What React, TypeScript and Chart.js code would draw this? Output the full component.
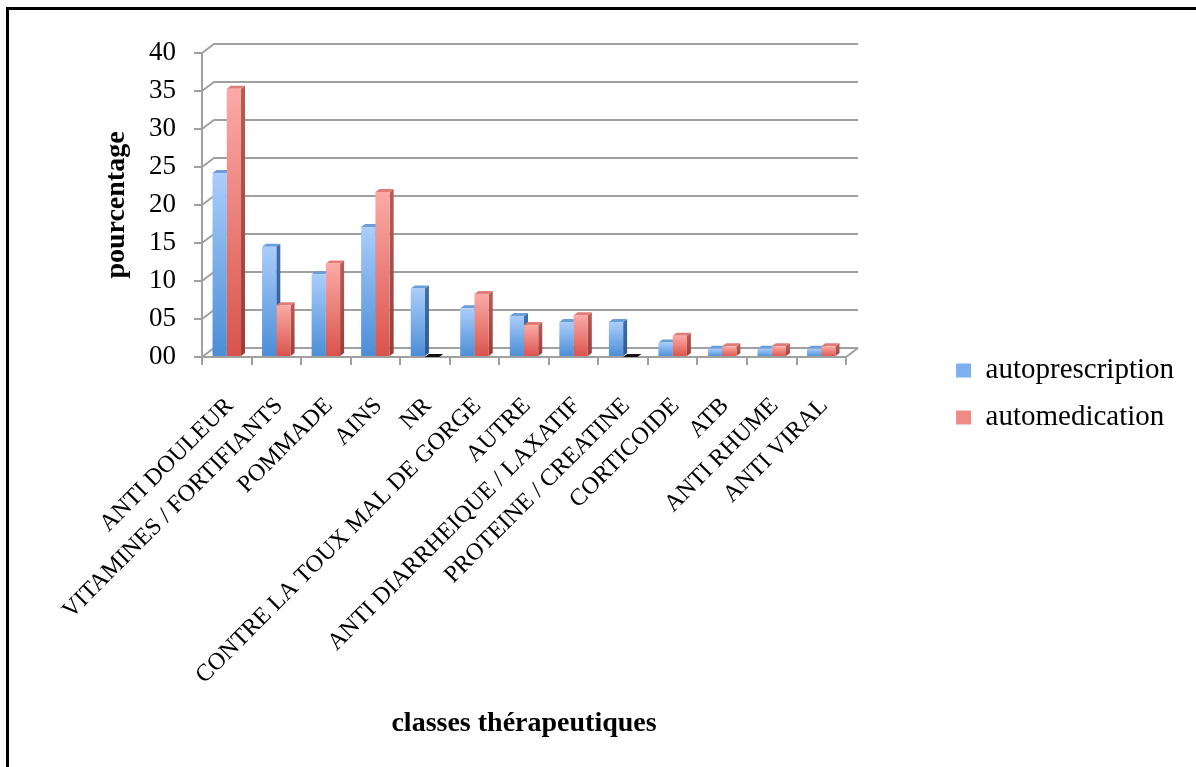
import React, { useEffect, useRef } from "react";
import { Chart, registerables } from "chart.js";

Chart.register(...registerables);

const categories = [
  "ANTI DOULEUR",
  "VITAMINES / FORTIFIANTS",
  "POMMADE",
  "AINS",
  "NR",
  "CONTRE LA TOUX MAL DE GORGE",
  "AUTRE",
  "ANTI DIARRHEIQUE / LAXATIF",
  "PROTEINE / CREATINE",
  "CORTICOIDE",
  "ATB",
  "ANTI RHUME",
  "ANTI VIRAL",
];
const autoprescription = [24.2, 14.5, 10.9, 17.1, 9.0, 6.4, 5.4, 4.6, 4.6, 1.9, 1.1, 1.1, 1.1];
const automedication = [35.3, 6.8, 12.3, 21.7, 0, 8.3, 4.2, 5.5, 0, 2.8, 1.4, 1.4, 1.4];
const yTickLabels = ["00", "05", "10", "15", "20", "25", "30", "35", "40"];
const seriesNames = ["autoprescription", "automedication"];
const yTitle = "pourcentage";
const xTitle = "classes thérapeutiques";

const SERIF = "'Liberation Serif', 'DejaVu Serif', serif";
const GRID = "#a0a0a0";

const palette = [
  { light: "#aacdfb", dark: "#4a8dd6", side: "#3f6ea8", sideDark: "#2f5a8e", top: "#6b9ddb", legend: "#7cb0ee" },
  { light: "#fcaaa6", dark: "#d9534b", side: "#b85b55", sideDark: "#983d38", top: "#e07c76", legend: "#f08a84" },
];

function gradientFill(si: number) {
  return (ctx: any) => {
    const chart = ctx.chart;
    const p = palette[si];
    const y = chart.scales && chart.scales.y;
    if (!y || ctx.type !== "data" || !chart.chartArea) return p.dark;
    const top = y.getPixelForValue(ctx.raw);
    const bot = y.getPixelForValue(0);
    if (!isFinite(top) || !isFinite(bot) || bot - top < 1) return p.dark;
    const g = chart.ctx.createLinearGradient(0, top, 0, bot);
    g.addColorStop(0, p.light);
    g.addColorStop(1, p.dark);
    return g;
  };
}

const depthPlugin = {
  id: "depth3d",
  beforeDatasetsDraw(chart: any) {
    const { ctx, chartArea } = chart;
    const y = chart.scales.y;
    const dx = 12;
    const dy = 9;
    ctx.save();
    ctx.strokeStyle = GRID;
    ctx.lineWidth = 2;
    y.ticks.forEach((_t: any, i: number) => {
      const py = y.getPixelForTick(i);
      ctx.beginPath();
      ctx.moveTo(chartArea.left, py);
      ctx.lineTo(chartArea.left + dx, py - dy);
      ctx.lineTo(chartArea.right + dx, py - dy);
      ctx.stroke();
    });
    ctx.beginPath();
    ctx.moveTo(chartArea.right, chartArea.bottom);
    ctx.lineTo(chartArea.right + dx, chartArea.bottom - dy);
    ctx.stroke();

    const fd = 4;
    const fdy = 3;
    chart.data.datasets.forEach((_ds: any, di: number) => {
      const meta = chart.getDatasetMeta(di);
      const p = palette[di];
      meta.data.forEach((bar: any, i: number) => {
        const { x: bx, y: by, base, width } = bar.getProps(["x", "y", "base", "width"], true);
        const l = bx - width / 2;
        const r = bx + width / 2;
        const v = chart.data.datasets[di].data[i];
        if (v > 0) {
          const sg = ctx.createLinearGradient(0, by, 0, base);
          sg.addColorStop(0, p.side);
          sg.addColorStop(1, p.sideDark);
          ctx.fillStyle = sg;
          ctx.beginPath();
          ctx.moveTo(r, by);
          ctx.lineTo(r + fd, by - fdy);
          ctx.lineTo(r + fd, base - fdy);
          ctx.lineTo(r, base);
          ctx.closePath();
          ctx.fill();
          ctx.fillStyle = p.top;
        } else {
          ctx.fillStyle = "#111111";
        }
        ctx.beginPath();
        ctx.moveTo(l, by);
        ctx.lineTo(l + fd, by - fdy);
        ctx.lineTo(r + fd, by - fdy);
        ctx.lineTo(r, by);
        ctx.closePath();
        ctx.fill();
      });
    });
    ctx.restore();
  },
};

export default function App() {
  const ref = useRef<HTMLCanvasElement | null>(null);

  useEffect(() => {
    if (!ref.current) return;
    const chart = new Chart(ref.current, {
      type: "bar",
      data: {
        labels: categories,
        datasets: [
          {
            label: seriesNames[0],
            data: autoprescription,
            backgroundColor: gradientFill(0),
            borderWidth: 0,
            categoryPercentage: 0.575,
            barPercentage: 1,
          },
          {
            label: seriesNames[1],
            data: automedication,
            backgroundColor: gradientFill(1),
            borderWidth: 0,
            categoryPercentage: 0.575,
            barPercentage: 1,
          },
        ],
      },
      options: {
        responsive: false,
        animation: false,
        devicePixelRatio: 1,
        layout: { padding: { left: 0, top: 53, right: 12, bottom: 32 } },
        plugins: {
          tooltip: { enabled: false },
          legend: {
            position: "right",
            labels: {
              boxWidth: 15,
              boxHeight: 14,
              padding: 18,
              color: "#000",
              font: { family: SERIF, size: 29 },
              generateLabels: (c: any) => {
                const items = Chart.defaults.plugins.legend.labels.generateLabels(c);
                return items.map((it: any, i: number) => ({
                  ...it,
                  fillStyle: palette[i].legend,
                  strokeStyle: palette[i].legend,
                  lineWidth: 0,
                }));
              },
            },
          },
        },
        scales: {
          x: {
            grid: {
              display: true,
              drawOnChartArea: false,
              drawTicks: true,
              tickLength: 8,
              color: GRID,
              lineWidth: 2,
              offset: true,
            },
            border: { display: true, color: GRID, width: 2 },
            ticks: {
              autoSkip: false,
              maxRotation: 45,
              minRotation: 45,
              padding: 27,
              labelOffset: 3,
              color: "#000",
              font: { family: SERIF, size: 24 },
            },
            title: {
              display: true,
              text: xTitle,
              color: "#000",
              font: { family: SERIF, size: 28, weight: "bold", lineHeight: 1 },
              padding: { top: 0, bottom: -3 },
            },
            afterFit: (s: any) => {
              s.height = 378;
            },
          },
          y: {
            min: 0,
            max: 40,
            grid: {
              display: true,
              drawOnChartArea: false,
              drawTicks: true,
              tickLength: 8,
              color: GRID,
              lineWidth: 2,
            },
            border: { display: true, color: GRID, width: 2 },
            ticks: {
              stepSize: 5,
              padding: 18,
              color: "#000",
              font: { family: SERIF, size: 27 },
              callback: (_v: any, i: number) => yTickLabels[i],
            },
            title: {
              display: true,
              text: yTitle,
              color: "#000",
              font: { family: SERIF, size: 28, weight: "bold", lineHeight: 1 },
              padding: { top: 103, bottom: 0 },
            },
            afterFit: (s: any) => {
              s.width = 202;
            },
          },
          pad: {
            type: "linear",
            position: "right",
            display: false,
            afterFit: (s: any) => {
              s.width = 92;
            },
          },
        },
      },
      plugins: [depthPlugin],
    } as any);
    return () => chart.destroy();
  }, []);

  return (
    <div style={{ position: "fixed", left: 0, top: 0, width: 1196, height: 767, overflow: "hidden", background: "#fff" }}>
      <div
        style={{
          position: "absolute",
          left: 6,
          top: 7,
          width: 1300,
          height: 900,
          borderLeft: "3px solid #000",
          borderTop: "3px solid #000",
          boxSizing: "border-box",
        }}
      />
      <canvas ref={ref} width={1196} height={767} style={{ position: "absolute", left: 0, top: 0, width: 1196, height: 767 }} />
    </div>
  );
}
